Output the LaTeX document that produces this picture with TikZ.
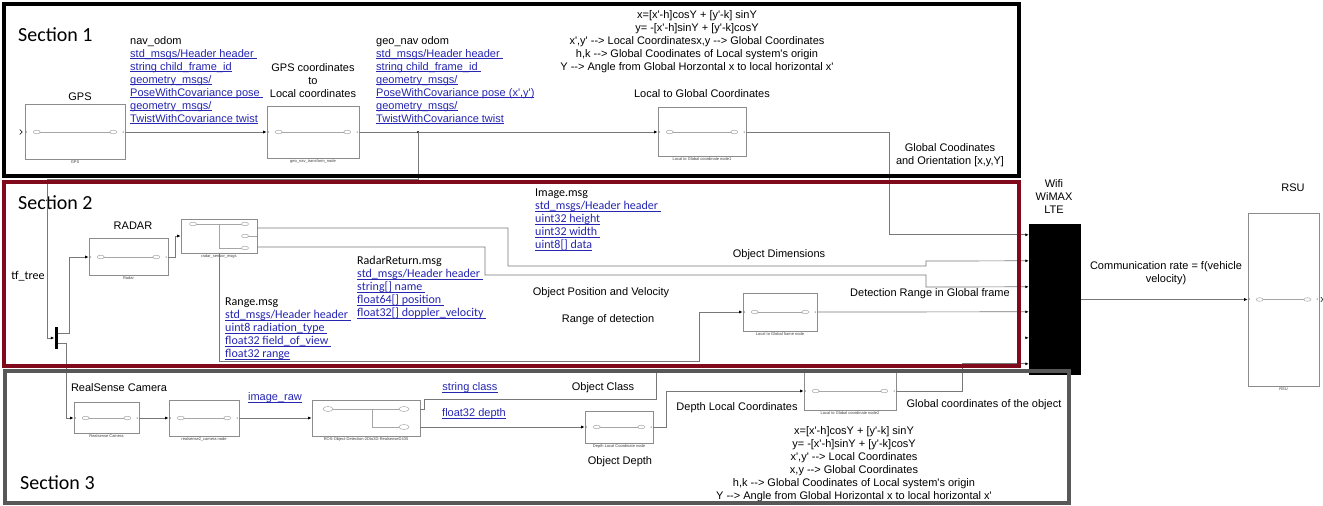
\documentclass[tikz,border=0pt]{standalone}
\usepackage{fontspec}
\setmainfont{Liberation Sans}[Ligatures=TeXOff]
\newfontfamily\calfont{Carlito}[Ligatures=TeXOff]
\usetikzlibrary{positioning,calc,arrows.meta}

\definecolor{linkblue}{RGB}{38,38,178}
\definecolor{sectionred}{RGB}{128,10,28}
\definecolor{sectiongray}{RGB}{88,88,88}
\definecolor{wiregray}{RGB}{120,120,120}

% underlined blue message fields
\newsavebox{\lnkbox}
\newcommand{\lnk}[1]{\sbox{\lnkbox}{\color{linkblue}#1}{\color{linkblue}\rlap{\rule[-1.8pt]{\wd\lnkbox}{0.6pt}}\usebox{\lnkbox}}}

\tikzset{
        % Simulink subsystem blocks
        sim_block/.style={draw=black!45, fill=white, line width=0.6pt, inner sep=0pt},
        % Small captions under the blocks
        block_caption/.style={font=\fontsize{4}{5}\selectfont, text=black!75, inner sep=0.5pt},
        % Port numbers inside the blocks
        port_num/.style={font=\fontsize{3}{3}\selectfont, text=black!70, inner sep=1pt},
        % Lines inside the blocks
        inner_wire/.style={draw=black!35, line width=0.5pt},
        % Signal lines
        wire/.style={draw=wiregray, line width=0.7pt},
        wire_arrow/.style={wire, -{Latex[length=3.5pt, width=3pt, color=black]}},
        % Annotations
        label_text/.style={font=\fontsize{11}{13}\selectfont, align=center, inner sep=0pt},
        msg_text/.style={font=\fontsize{11}{13}\selectfont, align=left, anchor=north west, inner sep=0pt},
        msg_text_cal/.style={font=\calfont\fontsize{12}{13}\selectfont, align=left, anchor=north west, inner sep=0pt},
        section_title/.style={font=\calfont\fontsize{20}{24}\selectfont, anchor=west, inner sep=0pt}
}

\newcommand{\simoval}[1]{\draw[inner_wire, fill=white] (#1) ellipse [x radius=3.5pt, y radius=1.8pt];}
\newcommand{\blockinner}[1]{%
    \draw[inner_wire] ($(#1.west)+(12,0)$) -- ($(#1.east)+(-12,0)$);
    \simoval{$(#1.west)+(12,0)$}
    \simoval{$(#1.east)+(-12,0)$}
    \node[port_num, anchor=west] at (#1.west) {1};
    \node[port_num, anchor=east] at (#1.east) {1};
}
\newcommand{\blockcaption}[2]{\node[block_caption, below=0.5pt of #1] {#2};}

\begin{document}
\begin{tikzpicture}[x=1pt, y=-1pt]
\useasboundingbox (0,0) rectangle (1323,506);
\fill[white] (0,0) rectangle (1323,506);

% Wifi / RSU
\node[fill=black, inner sep=0pt, minimum width=52, minimum height=151] (wifi) at (1055,299.5) {};
\foreach \i/\dy in {1/11,2/37,3/63,4/88,5/114,6/140}
    \coordinate (w\i) at ($(wifi.north west)+(0,\dy)$);
\node[label_text] (wifilabel) at (1054,197) {Wifi\\WiMAX\\LTE};
\node[sim_block, minimum width=71, minimum height=173] (rsu) at (1283.5,299.5) {};
\blockinner{rsu}
\blockcaption{rsu}{RSU}
\node[label_text] (rsulabel) at (1293,188) {RSU};
\draw[black, line width=0.5pt] ($(rsu.east)+(1.5,-2.5)$) -- ($(rsu.east)+(3.5,0)$) -- ($(rsu.east)+(1.5,2.5)$);
\draw[wire_arrow] (wifi.east) -- (rsu.west);
\node[label_text] (commrate) at (1166,273) {Communication rate = f(vehicle\\velocity)};

% Section 1
\node[section_title] (s1title) at (18,35) {Section 1};
\node[label_text] (gpslabel) at (80,97) {GPS};
\node[sim_block, minimum width=100, minimum height=55] (gps) at (75,132) {};
\blockinner{gps}
\blockcaption{gps}{GPS}
\draw[black, line width=0.5pt] ($(gps.west)+(-5,-2.5)$) -- ($(gps.west)+(-2.5,0)$) -- ($(gps.west)+(-5,2.5)$);
\node[msg_text] (navodom) at (130,36) {nav\_odom\\
    \lnk{std\_msgs/Header header\ }\\
    \lnk{string child\_frame\_id}\\
    \lnk{geometry\_msgs/}\\
    \lnk{PoseWithCovariance pose\ }\\
    \lnk{geometry\_msgs/}\\
    \lnk{TwistWithCovariance twist}};
\node[label_text] (gpstolocal) at (313,81) {GPS coordinates\\to\\Local coordinates};
\node[sim_block, minimum width=92, minimum height=52] (geonav) at (313,132) {};
\blockinner{geonav}
\blockcaption{geonav}{geo\_nav\_transform\_node}
\node[msg_text] (geonavodom) at (376,36) {geo\_nav odom\\
    \lnk{std\_msgs/Header header\ }\\
    \lnk{string child\_frame\_id\ }\\
    \lnk{geometry\_msgs/}\\
    \lnk{PoseWithCovariance pose (x',y')}\\
    \lnk{geometry\_msgs/}\\
    \lnk{TwistWithCovariance twist}};
\node[label_text] (eqtop) at (697,42) {x=[x'-h]cosY + [y'-k] sinY\\
    y= -[x'-h]sinY + [y'-k]cosY\\
    x',y' --> Local Coordinatesx,y --> Global Coordinates\\
    h,k --> Global Coodinates of Local system's origin\\
    Y --> Angle from Global Horzontal x to local horizontal x'};
\node[label_text] (ltoglabel) at (702,94) {Local to Global Coordinates};
\node[sim_block, minimum width=88, minimum height=49] (ltog1) at (702,132) {};
\blockinner{ltog1}
\blockcaption{ltog1}{Local to Global coordinate node1}
\node[label_text] (globorient) at (950,155) {Global Coodinates\\and Orientation [x,y,Y]};

\draw[wire_arrow] (gps.east) -- (geonav.west);
\draw[wire_arrow] (geonav.east) -- (ltog1.west);
\coordinate (tfsplit) at (418,132);
\fill[black] (tfsplit) circle[radius=1.2pt];
\draw[wire_arrow] (ltog1.east) -- ++(143,0) |- (w1);

% Section 2
\node[section_title] (s2title) at (18,203) {Section 2};
\node[label_text, font=\calfont\fontsize{12}{13}\selectfont] (tftree) at (28,276) {tf\_tree};
\node[fill=black, inner sep=0pt, minimum width=3, minimum height=22] (tfbus) at (56,338) {};
\node[label_text] (radarlabel) at (133,226) {RADAR};
\node[sim_block, minimum width=79, minimum height=37] (radar) at (128.5,257) {};
\blockinner{radar}
\blockcaption{radar}{Radar}
\node[sim_block, minimum width=76, minimum height=34] (rsm) at (219,236) {};
\draw[inner_wire] ($(rsm)+(-26,-12)$) -- ($(rsm)+(26,-12)$);
\draw[inner_wire] ($(rsm)+(0,-12)$) -- ($(rsm)+(0,12)$) -- ($(rsm)+(26,12)$);
\draw[inner_wire] (rsm) -- ($(rsm)+(26,0)$);
\simoval{$(rsm)+(-26,-12)$}
\simoval{$(rsm)+(26,-12)$}
\simoval{$(rsm)+(26,0)$}
\simoval{$(rsm)+(26,12)$}
\blockcaption{rsm}{radar\_sensor\_msgs}
\node[msg_text_cal] (imagemsg) at (535,189) {Image.msg\\
    \lnk{std\_msgs/Header header\ }\\
    \lnk{uint32 height}\\
    \lnk{uint32 width\ }\\
    \lnk{uint8[] data}};
\node[label_text] (objdim) at (779,255) {Object Dimensions};
\node[msg_text_cal] (radarreturn) at (357,256) {RadarReturn.msg\\
    \lnk{std\_msgs/Header header\ }\\
    \lnk{string[] name\ }\\
    \lnk{float64[] position\ }\\
    \lnk{float32[] doppler\_velocity\ }};
\node[msg_text_cal] (rangemsg) at (225,298) {Range.msg\\
    \lnk{std\_msgs/Header header\ }\\
    \lnk{uint8 radiation\_type\ }\\
    \lnk{float32 field\_of\_view\ }\\
    \lnk{float32 range}};
\node[label_text] (objpos) at (601,293) {Object Position and Velocity};
\node[label_text] (rangedet) at (608,320) {Range of detection};
\node[label_text] (detrange) at (930,294) {Detection Range in Global frame};
\node[sim_block, minimum width=74, minimum height=38] (ltogf) at (780,312) {};
\blockinner{ltogf}
\blockcaption{ltogf}{Local to Global frame node}

\draw[wire_arrow] (tfsplit) -- (418,179) -| (47,338) -- (tfbus.west);
\draw[wire_arrow] ($(tfbus.east)+(0,-5)$) -- ++(12,0) |- (radar.west);
\draw[wire_arrow] (radar.east) -- ++(7,0) |- (rsm.west);
\draw[wire_arrow] ($(rsm.east)+(0,-8)$) -| (508,266) -| (926,261) -- (w2);
\draw[wire_arrow] ($(rsm.east)+(0,11)$) -| (485,275) -| (926,287) -- (w3);
\draw[wire_arrow] (rsm.south) |- (699,361) |- (ltogf.west);
\draw[wire_arrow] (ltogf.east) -- (w4);
\draw[wire_arrow] ($(w5)+(-4,0)$) -- (w5);

% Section 3
\node[section_title] (s3title) at (20,483) {Section 3};
\node[label_text] (rscamlabel) at (119,388) {RealSense Camera};
\node[sim_block, minimum width=65, minimum height=31] (rscam) at (106.5,418) {};
\blockinner{rscam}
\blockcaption{rscam}{Realsense Camera}
\node[sim_block, minimum width=70, minimum height=36] (rs2node) at (204,418) {};
\blockinner{rs2node}
\blockcaption{rs2node}{realsense2\_camera node}
\node[label_text] (imageraw) at (275,398) {\lnk{image\_raw}};
\node[sim_block, minimum width=108, minimum height=36] (rosdet) at (366,418) {};
\draw[inner_wire] ($(rosdet)+(-38,-9)$) -- ($(rosdet)+(38,-9)$);
\draw[inner_wire] ($(rosdet)+(6,-9)$) -- ($(rosdet)+(6,9)$) -- ($(rosdet)+(38,9)$);
\draw[inner_wire, fill=white] ($(rosdet)+(-38,-9)$) ellipse [x radius=5pt, y radius=2.5pt];
\draw[inner_wire, fill=white] ($(rosdet)+(38,-9)$) ellipse [x radius=5pt, y radius=2.5pt];
\draw[inner_wire, fill=white] ($(rosdet)+(38,9)$) ellipse [x radius=5pt, y radius=2.5pt];
\blockcaption{rosdet}{ROS-Object-Detection-2Dto3D-RealsenseD435}
\node[label_text] (strclass) at (470,388) {\lnk{string class}};
\node[label_text] (fdepth) at (474,414) {\lnk{float32 depth}};
\node[label_text] (objclass) at (603,388) {Object Class};
\node[sim_block, minimum width=68, minimum height=32] (depthnode) at (619,427) {};
\blockinner{depthnode}
\blockcaption{depthnode}{Depth Local Coordinate node}
\node[label_text] (objdepth) at (620,462) {Object Depth};
\node[label_text] (depthlocal) at (737,408) {Depth Local Coordinates};
\node[sim_block, minimum width=92, minimum height=38] (ltog2) at (850,391) {};
\blockinner{ltog2}
\blockcaption{ltog2}{Local to Global coordinate node2}
\node[label_text] (globobj) at (984,405) {Global coordinates of the object};
\node[label_text] (eqbottom) at (854,464) {x=[x'-h]cosY + [y'-k] sinY\\
    y= -[x'-h]sinY + [y'-k]cosY\\
    x',y' --> Local Coordinates\\
    x,y --> Global Coordinates\\
    h,k --> Global Coodinates of Local system's origin\\
    Y --> Angle from Global Horizontal x to local horizontal x'};

\coordinate (objclass_end) at (656,369);
\draw[wire_arrow] ($(tfbus.east)+(0,5)$) -- ++(8.5,0) |- (rscam.west);
\draw[wire_arrow] (rscam.east) -- (rs2node.west);
\draw[wire_arrow] (rs2node.east) -- (rosdet.west);
\draw[wire] ($(rosdet.east)+(0,-9)$) -- ++(4,0) |- (656,399) -- (objclass_end);
\draw[wire_arrow] ($(rosdet.east)+(0,9)$) -- (depthnode.west);
\draw[wire_arrow] (depthnode.east) -- ++(13,0) |- (ltog2.west);
\draw[wire_arrow] (ltog2.east) -- ++(66,0) |- (w6);

% Section frames
\draw[black, line width=4pt] (4,4) rectangle (1019,176);
\draw[sectionred, line width=4pt] (4,182) rectangle (1019,366);
\draw[sectiongray, line width=3.5pt] (5,371) rectangle (1069,503);
\end{tikzpicture}
\end{document}
